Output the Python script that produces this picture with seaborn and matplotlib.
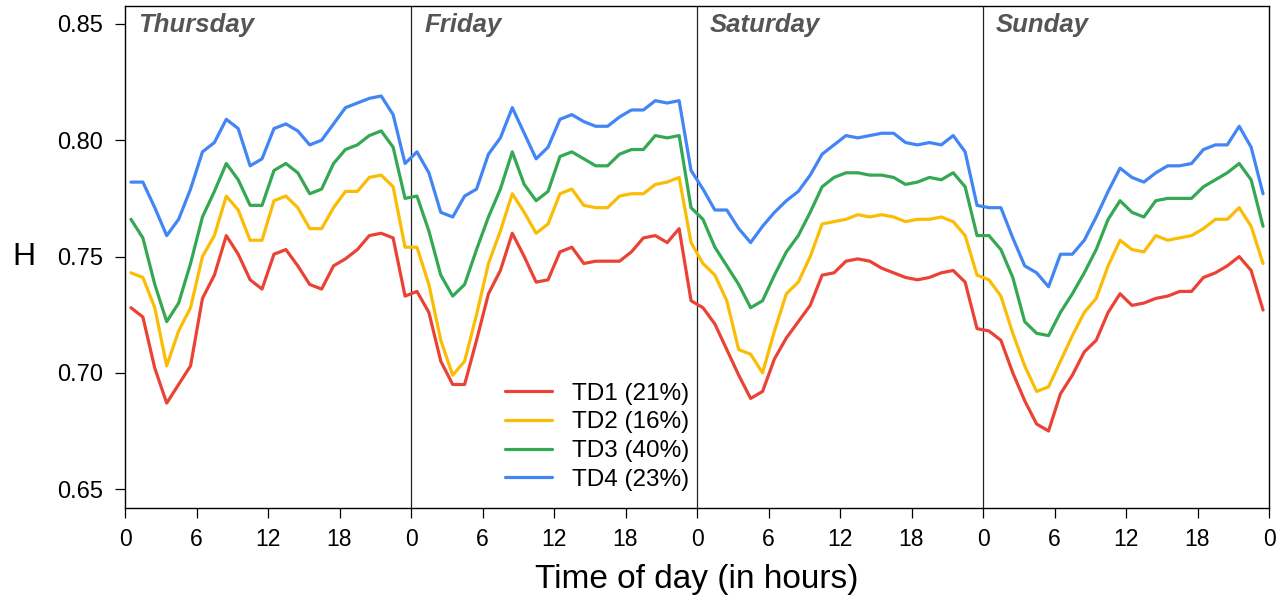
import numpy as np
import pandas as pd
import matplotlib
matplotlib.use("Agg")
import matplotlib.pyplot as plt
import seaborn as sns

# ---------------- data ----------------
days = ["Thursday", "Friday", "Saturday", "Sunday"]
series_labels = ["TD1 (21%)", "TD2 (16%)", "TD3 (40%)", "TD4 (23%)"]
series_colors = ["#EA4335", "#FBBC05", "#34A853", "#4285F4"]
tick_hours = [0, 6, 12, 18]

# hourly values (at hh:30) Thursday .. Sunday, 24 per day
td1 = [0.728, 0.724, 0.702, 0.687, 0.695, 0.703, 0.732, 0.742, 0.759, 0.751, 0.740, 0.736,
       0.751, 0.753, 0.746, 0.738, 0.736, 0.746, 0.749, 0.753, 0.759, 0.760, 0.758, 0.733,
       0.735, 0.726, 0.705, 0.695, 0.695, 0.714, 0.734, 0.744, 0.760, 0.750, 0.739, 0.740,
       0.752, 0.754, 0.747, 0.748, 0.748, 0.748, 0.752, 0.758, 0.759, 0.756, 0.762, 0.731,
       0.728, 0.721, 0.710, 0.699, 0.689, 0.692, 0.706, 0.715, 0.722, 0.729, 0.742, 0.743,
       0.748, 0.749, 0.748, 0.745, 0.743, 0.741, 0.740, 0.741, 0.743, 0.744, 0.739, 0.719,
       0.718, 0.714, 0.700, 0.688, 0.678, 0.675, 0.691, 0.699, 0.709, 0.714, 0.726, 0.734,
       0.729, 0.730, 0.732, 0.733, 0.735, 0.735, 0.741, 0.743, 0.746, 0.750, 0.744, 0.727]
td2 = [0.743, 0.741, 0.728, 0.703, 0.718, 0.728, 0.750, 0.759, 0.776, 0.770, 0.757, 0.757,
       0.774, 0.776, 0.771, 0.762, 0.762, 0.771, 0.778, 0.778, 0.784, 0.785, 0.780, 0.754,
       0.754, 0.738, 0.714, 0.699, 0.705, 0.725, 0.747, 0.761, 0.777, 0.769, 0.760, 0.764,
       0.777, 0.779, 0.772, 0.771, 0.771, 0.776, 0.777, 0.777, 0.781, 0.782, 0.784, 0.756,
       0.747, 0.742, 0.731, 0.710, 0.708, 0.700, 0.718, 0.734, 0.739, 0.750, 0.764, 0.765,
       0.766, 0.768, 0.767, 0.768, 0.767, 0.765, 0.766, 0.766, 0.767, 0.765, 0.759, 0.742,
       0.740, 0.733, 0.717, 0.703, 0.692, 0.694, 0.705, 0.716, 0.726, 0.732, 0.746, 0.757,
       0.753, 0.752, 0.759, 0.757, 0.758, 0.759, 0.762, 0.766, 0.766, 0.771, 0.763, 0.747]
td3 = [0.766, 0.758, 0.738, 0.722, 0.730, 0.747, 0.767, 0.778, 0.790, 0.783, 0.772, 0.772,
       0.787, 0.790, 0.786, 0.777, 0.779, 0.790, 0.796, 0.798, 0.802, 0.804, 0.797, 0.775,
       0.776, 0.761, 0.742, 0.733, 0.738, 0.753, 0.767, 0.779, 0.795, 0.781, 0.774, 0.778,
       0.793, 0.795, 0.792, 0.789, 0.789, 0.794, 0.796, 0.796, 0.802, 0.801, 0.802, 0.771,
       0.766, 0.754, 0.746, 0.738, 0.728, 0.731, 0.742, 0.752, 0.759, 0.769, 0.780, 0.784,
       0.786, 0.786, 0.785, 0.785, 0.784, 0.781, 0.782, 0.784, 0.783, 0.786, 0.780, 0.759,
       0.759, 0.753, 0.741, 0.722, 0.717, 0.716, 0.726, 0.734, 0.743, 0.753, 0.766, 0.774,
       0.769, 0.767, 0.774, 0.775, 0.775, 0.775, 0.780, 0.783, 0.786, 0.790, 0.783, 0.763]
td4 = [0.782, 0.782, 0.771, 0.759, 0.766, 0.779, 0.795, 0.799, 0.809, 0.805, 0.789, 0.792,
       0.805, 0.807, 0.804, 0.798, 0.800, 0.807, 0.814, 0.816, 0.818, 0.819, 0.811, 0.790,
       0.795, 0.786, 0.769, 0.767, 0.776, 0.779, 0.794, 0.801, 0.814, 0.803, 0.792, 0.797,
       0.809, 0.811, 0.808, 0.806, 0.806, 0.810, 0.813, 0.813, 0.817, 0.816, 0.817, 0.787,
       0.779, 0.770, 0.770, 0.762, 0.756, 0.763, 0.769, 0.774, 0.778, 0.785, 0.794, 0.798,
       0.802, 0.801, 0.802, 0.803, 0.803, 0.799, 0.798, 0.799, 0.798, 0.802, 0.795, 0.772,
       0.771, 0.771, 0.758, 0.746, 0.743, 0.737, 0.751, 0.751, 0.757, 0.767, 0.778, 0.788,
       0.784, 0.782, 0.786, 0.789, 0.789, 0.790, 0.796, 0.798, 0.798, 0.806, 0.797, 0.777]

# ---------------- frame ----------------
n_hours = len(td1)
hours = np.arange(n_hours) + 0.5
frames = []
for lab, vals in zip(series_labels, [td1, td2, td3, td4]):
    frames.append(pd.DataFrame({"hour": hours, "H": vals, "series": lab}))
df = pd.concat(frames, ignore_index=True)

# ---------------- plot ----------------
sns.set_theme(style="white")
plt.rcParams["font.family"] = ["Liberation Sans", "DejaVu Sans"]
plt.rcParams["text.color"] = "black"
plt.rcParams["axes.labelcolor"] = "black"
plt.rcParams["xtick.color"] = "black"
plt.rcParams["ytick.color"] = "black"

fig = plt.figure(figsize=(12.83, 6.06), dpi=100)
ax = fig.add_axes([125 / 1283, 98 / 606, 1144 / 1283, 502 / 606])

sns.lineplot(data=df, x="hour", y="H", hue="series", hue_order=series_labels,
             palette=series_colors, linewidth=2.3, estimator=None, sort=True, ax=ax)

ax.set_xlim(0, 24 * len(days))
ax.set_ylim(0.6419, 0.8577)

for d in range(1, len(days)):
    ax.axvline(24 * d, color="#222222", linewidth=0.9, zorder=1)

for d, name in enumerate(days):
    ax.text(24 * d + 1.1, 0.8467, name, fontsize=18.5, fontweight="bold",
            fontstyle="italic", color="#555555", ha="left", va="baseline")

xt = [24 * d + h for d in range(len(days)) for h in tick_hours] + [24 * len(days)]
ax.set_xticks(xt)
ax.set_xticklabels([str(int(t % 24)) for t in xt])
ax.set_yticks([0.65, 0.70, 0.75, 0.80, 0.85])
ax.set_yticklabels(["0.65", "0.70", "0.75", "0.80", "0.85"])
ax.tick_params(axis="x", direction="out", length=7.2, width=0.9, colors="black",
               labelsize=16.5, pad=7.5, bottom=True)
ax.tick_params(axis="y", direction="out", length=7.2, width=0.9, colors="black",
               labelsize=17, pad=8.5, left=True)

ax.set_xlabel("Time of day (in hours)", fontsize=24, labelpad=9)
ax.set_ylabel("H", fontsize=23, rotation=0, labelpad=24, va="center")

for s in ax.spines.values():
    s.set_visible(True)
    s.set_color("black")
    s.set_linewidth(1.0)

leg = ax.legend(loc="upper left", bbox_to_anchor=(0.332, 0.250), frameon=False,
                fontsize=17.5, handlelength=1.95, handletextpad=0.82,
                labelspacing=0.28, borderpad=0, borderaxespad=0)
for line in leg.get_lines():
    line.set_linewidth(2.3)

fig.savefig("out.png", dpi=100)
